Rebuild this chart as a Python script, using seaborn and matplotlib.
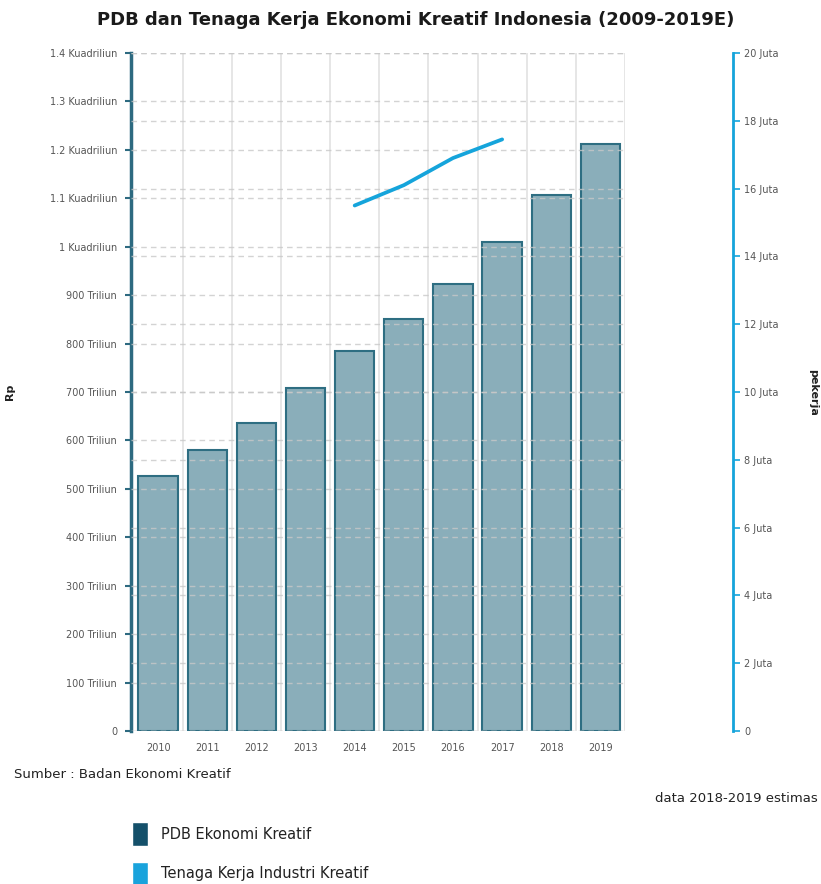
import matplotlib
matplotlib.use("Agg")
import matplotlib.pyplot as plt
from matplotlib.patches import Patch
from matplotlib.ticker import FixedLocator
import seaborn as sns

# data PDB (triliun rupiah) dan tenaga kerja (juta orang)
years = ['2010', '2011', '2012', '2013', '2014', '2015', '2016', '2017', '2018', '2019']
pdb = [526, 580, 636, 708, 785, 851, 923, 1010, 1107, 1212]
line_years = ['2014', '2015', '2016', '2017']
pekerja = [15.5, 16.1, 16.9, 17.45]

left_ticks = [0, 100, 200, 300, 400, 500, 600, 700, 800, 900, 1000, 1100, 1200, 1300, 1400]
left_labels = ['0', '100 Triliun', '200 Triliun', '300 Triliun', '400 Triliun', '500 Triliun',
               '600 Triliun', '700 Triliun', '800 Triliun', '900 Triliun', '1 Kuadriliun',
               '1.1 Kuadriliun', '1.2 Kuadriliun', '1.3 Kuadriliun', '1.4 Kuadriliun']
right_ticks = [0, 2, 4, 6, 8, 10, 12, 14, 16, 18, 20]
right_labels = ['0', '2 Juta', '4 Juta', '6 Juta', '8 Juta', '10 Juta', '12 Juta',
                '14 Juta', '16 Juta', '18 Juta', '20 Juta']

teal = '#2d6a80'
blue = '#15a4db'
grid_col = '#c8c8c8'

sns.set_style("white")
plt.rcParams['font.family'] = ['DejaVu Sans']

fig = plt.figure(figsize=(8.21, 8.84), dpi=100)
ax = fig.add_axes([0.1596, 0.1731, 0.6017, 0.767])

sns.barplot(x=years, y=pdb, ax=ax, color='#8aaeba', saturation=1, width=0.8,
            edgecolor='#2e6e82', linewidth=1.5)
ax.set_xlim(-0.55, 9.5)
ax.set_ylim(0, 1400)
ax.set_yticks(left_ticks)
ax.set_yticklabels(left_labels)

# garis grid
ax.set_axisbelow(False)
ax.yaxis.grid(True, color=grid_col, linestyle=(0, (4, 3)), linewidth=1, alpha=0.8)
ax.xaxis.set_minor_locator(FixedLocator([i + 0.5 for i in range(len(years))]))
ax.xaxis.grid(True, which='minor', color='#e2e2e2', linestyle='-', linewidth=1.2)
ax.xaxis.grid(False, which='major')

for s in ['top', 'right', 'bottom']:
    ax.spines[s].set_visible(False)
ax.spines['left'].set_color(teal)
ax.spines['left'].set_linewidth(2.5)
ax.tick_params(axis='y', direction='out', length=4, width=1.5, color=teal,
               labelsize=7, labelcolor='#555555', pad=6)
ax.tick_params(axis='x', which='both', length=0, labelsize=7, labelcolor='#555555', pad=9)
ax.set_xlabel('')
ax.set_ylabel('Rp', fontsize=8, fontweight='bold', color='#222222')
ax.yaxis.set_label_coords(-0.235, 0.5)

# sumbu kanan: tenaga kerja
ax2 = ax.twinx()
pos = [years.index(y) for y in line_years]
sns.lineplot(x=pos, y=pekerja, ax=ax2, color=blue, linewidth=2.7)
ax2.set_ylim(0, 20)
ax2.set_yticks(right_ticks)
ax2.set_yticklabels(right_labels)
ax2.set_axisbelow(True)
ax2.yaxis.grid(True, color=grid_col, linestyle=(0, (4, 3)), linewidth=1, alpha=0.8)
for s in ['top', 'left', 'bottom']:
    ax2.spines[s].set_visible(False)
ax2.spines['right'].set_position(('outward', 77.8))
ax2.spines['right'].set_color(blue)
ax2.spines['right'].set_linewidth(2)
ax2.tick_params(axis='y', direction='out', length=5, width=1.2, color=blue,
                labelsize=7, labelcolor='#555555', pad=3)
ax2.set_ylabel('pekerja', fontsize=8, fontweight='bold', color='#222222', rotation=270,
               va='center')
ax2.yaxis.set_label_coords(1.381, 0.5)

fig.suptitle('PDB dan Tenaga Kerja Ekonomi Kreatif Indonesia (2009-2019E)',
             x=0.506, y=1 - 20 / 884, va='center', fontsize=13, fontweight='bold',
             color='#1a1a1a')

fig.text(14 / 821, 1 - 775 / 884, 'Sumber : Badan Ekonomi Kreatif', va='center',
         fontsize=9.5, color='#222222')
fig.text(818 / 821, 1 - 798 / 884, 'data 2018-2019 estimas', ha='right', va='center',
         fontsize=9.5, color='#222222')

handles = [Patch(facecolor='#14506a'), Patch(facecolor='#19a3dc')]
fig.legend(handles, ['PDB Ekonomi Kreatif', 'Tenaga Kerja Industri Kreatif'],
           loc='upper left', bbox_to_anchor=(0.152, 1 - 815 / 884), frameon=False,
           borderpad=0, handlelength=1.1, handleheight=2.1, handletextpad=0.9,
           labelspacing=1.1, fontsize=10.5, labelcolor='#222222')

fig.savefig('out.png', dpi=100)
